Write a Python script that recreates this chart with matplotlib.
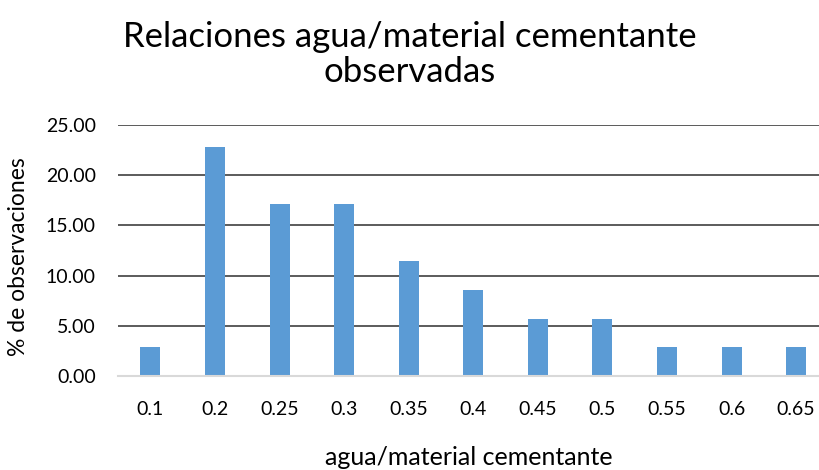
import matplotlib
matplotlib.use("Agg")
import matplotlib.pyplot as plt

plt.rcParams['font.family'] = ['Lato', 'DejaVu Sans']

relaciones = ["0.1", "0.2", "0.25", "0.3", "0.35", "0.4", "0.45", "0.5", "0.55", "0.6", "0.65"]
porcentaje = [2.86, 22.86, 17.14, 17.14, 11.43, 8.57, 5.71, 5.71, 2.86, 2.86, 2.86]

fig = plt.figure(figsize=(8.2, 4.7), dpi=100)
ax = fig.add_axes([0.144, 0.2, 0.856, 0.534])

posiciones = list(range(len(relaciones)))
ax.bar(posiciones, porcentaje, width=0.31, color="#5b9bd5", zorder=3)

ax.set_xlim(-0.5, 10.37)
ax.set_ylim(0, 25)
ax.set_yticks([0, 5, 10, 15, 20, 25])
ax.set_yticklabels([f"{v:.2f}" for v in [0, 5, 10, 15, 20, 25]])
ax.set_xticks(posiciones)
ax.set_xticklabels(relaciones)

ax.grid(axis="y", color="#404040", linewidth=1.2, zorder=0)
ax.tick_params(axis="both", length=0, labelsize=14, colors="black")
ax.tick_params(axis="y", pad=16)
ax.tick_params(axis="x", pad=18)
for lado in ["top", "right", "left"]:
    ax.spines[lado].set_visible(False)
ax.spines["bottom"].set_color("#d9d9d9")
ax.spines["bottom"].set_linewidth(1.5)
ax.spines["bottom"].set_zorder(4)

fig.text(0.5, 0.884, "Relaciones agua/material cementante\nobservadas", ha="center", va="center",
         fontsize=25, linespacing=1.15)
ax.set_xlabel("agua/material cementante", fontsize=18, labelpad=20)
fig.text(0.022, 0.455, "% de observaciones", rotation=90, ha="center", va="center", fontsize=16.5)

fig.savefig("out.png", dpi=100)
